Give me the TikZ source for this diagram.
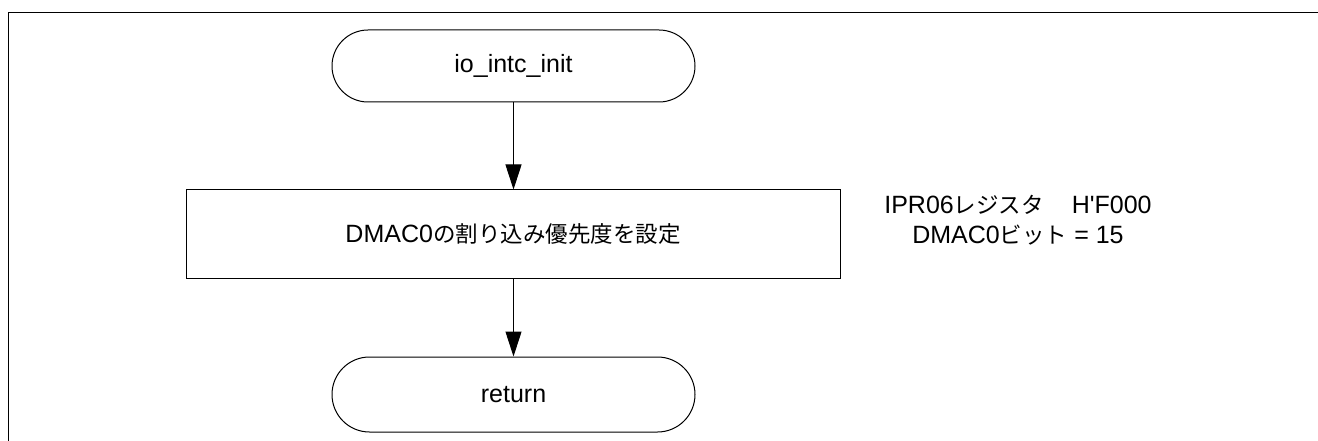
\documentclass[tikz,border=0pt]{standalone}
\usepackage{fontspec}
\setmainfont{Liberation Sans}
\newfontfamily\cjk{Noto Sans CJK JP}[Scale=0.9]
\usetikzlibrary{arrows.meta}
\begin{document}
\begin{tikzpicture}[x=1pt,y=-1pt,
  every node/.style={font=\fontsize{25}{30}\selectfont},
  term/.style={draw,line width=1pt,minimum width=363pt,inner sep=0pt},
  procbox/.style={draw,line width=1pt,minimum width=654pt,minimum height=88pt,inner sep=0pt},
  arr/.style={line width=1pt,-{Triangle[length=25pt,width=16pt]}},
  frame/.style={line width=1.3pt}]
\useasboundingbox (0,0) rectangle (1318,441);
\coordinate (fbl) at (8.5,441);
\coordinate (ftl) at (8.5,12.5);
\coordinate (ftr) at (1318,12.5);
\draw[frame] (fbl) -- (ftl) -- (ftr);
\node[term,minimum height=72pt,rounded corners=36pt] (start) at (513.5,66) {io\_intc\_init};
\node[procbox] (proc) at (513,234) {DMAC0{\cjk の割り込み優先度を設定}};
\node[term,minimum height=75pt,rounded corners=37.5pt] (ret) at (513.5,394.5) {return};
\node[align=center,inner sep=0pt] (note) at (1018,220) {IPR06{\cjk レジスタ}\hspace{28pt}H\textquotesingle F000\\DMAC0{\cjk ビット} = 15};
\draw[arr] (start.south) -- (start.south |- proc.north);
\draw[arr] (proc.south -| ret.north) -- (ret.north);
\end{tikzpicture}
\end{document}
